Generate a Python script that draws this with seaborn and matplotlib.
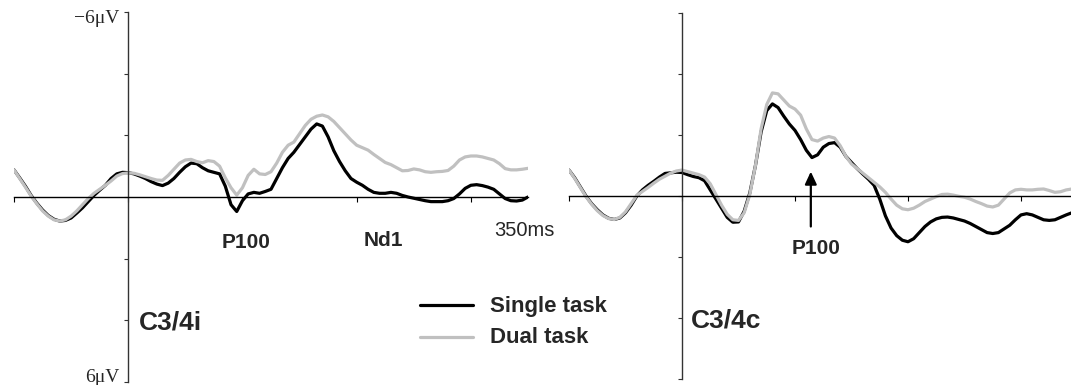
import matplotlib
matplotlib.use("Agg")
import matplotlib.pyplot as plt
from matplotlib.lines import Line2D
import seaborn as sns
import pandas as pd

# ---------------- data ----------------
conditions = ["Single task", "Dual task"]
colors = {"Single task": "#000000", "Dual task": "#c0c0c0"}

time_left = list(range(-100, 355, 5))    # ms
time_right = list(range(-100, 350, 5))   # ms

# C3/4i (ipsilateral), microvolts (negative plotted upward)
left_single = [
    -0.88, -0.62, -0.35, -0.05, 0.2, 0.42, 0.6, 0.72, 0.78, 0.76,
    0.68, 0.52, 0.35, 0.15, -0.05, -0.22, -0.38, -0.6, -0.75, -0.8,
    -0.79, -0.75, -0.68, -0.6, -0.5, -0.42, -0.37, -0.45, -0.6, -0.8,
    -0.98, -1.1, -1.08, -0.95, -0.85, -0.8, -0.75, -0.35, 0.25, 0.47,
    0.12, -0.1, -0.15, -0.12, -0.18, -0.25, -0.6, -0.95, -1.25, -1.45,
    -1.7, -1.95, -2.2, -2.37, -2.3, -1.95, -1.5, -1.15, -0.85, -0.6,
    -0.48, -0.38, -0.25, -0.15, -0.12, -0.12, -0.15, -0.12, -0.05, 0.0,
    0.04, 0.08, 0.12, 0.15, 0.15, 0.15, 0.12, 0.05, -0.1, -0.28,
    -0.38, -0.4, -0.37, -0.32, -0.25, -0.1, 0.05, 0.12, 0.13, 0.1,
    0.0,
]
left_dual = [
    -0.88, -0.6, -0.32, -0.03, 0.22, 0.45, 0.62, 0.74, 0.78, 0.74,
    0.62, 0.45, 0.25, 0.05, -0.12, -0.25, -0.38, -0.52, -0.68, -0.76,
    -0.78, -0.77, -0.72, -0.66, -0.6, -0.55, -0.54, -0.7, -0.9, -1.1,
    -1.2, -1.22, -1.15, -1.11, -1.18, -1.15, -1.0, -0.62, -0.3, -0.06,
    -0.3, -0.7, -0.9, -0.75, -0.73, -0.82, -1.1, -1.45, -1.68, -1.78,
    -2.05, -2.32, -2.52, -2.62, -2.66, -2.6, -2.45, -2.25, -2.05, -1.85,
    -1.68, -1.6, -1.52, -1.38, -1.25, -1.12, -1.05, -0.95, -0.85, -0.86,
    -0.91, -0.88, -0.82, -0.8, -0.82, -0.83, -0.86, -1.0, -1.2, -1.3,
    -1.33, -1.33, -1.3, -1.25, -1.2, -1.08, -0.92, -0.88, -0.88, -0.9,
    -0.93,
]

# C3/4c (contralateral)
right_single = [
    -0.85, -0.6, -0.3, 0.0, 0.25, 0.45, 0.62, 0.73, 0.77, 0.72,
    0.55, 0.3, 0.0, -0.2, -0.35, -0.48, -0.62, -0.74, -0.76, -0.78,
    -0.77, -0.7, -0.64, -0.6, -0.5, -0.2, 0.1, 0.4, 0.7, 0.86,
    0.85, 0.5, -0.1, -1.0, -2.1, -2.8, -3.02, -2.9, -2.62, -2.36,
    -2.15, -1.85, -1.5, -1.26, -1.35, -1.6, -1.72, -1.75, -1.6, -1.3,
    -1.1, -0.9, -0.72, -0.55, -0.35, 0.1, 0.65, 1.05, 1.3, 1.45,
    1.5, 1.4, 1.2, 1.0, 0.85, 0.75, 0.7, 0.69, 0.72, 0.77,
    0.82, 0.9, 1.0, 1.1, 1.2, 1.23, 1.2, 1.08, 0.96, 0.78,
    0.62, 0.58, 0.62, 0.7, 0.78, 0.8, 0.78, 0.7, 0.62, 0.55,
]
right_dual = [
    -0.85, -0.58, -0.28, 0.02, 0.27, 0.48, 0.64, 0.74, 0.77, 0.7,
    0.52, 0.25, -0.02, -0.15, -0.28, -0.42, -0.55, -0.65, -0.75, -0.82,
    -0.85, -0.8, -0.75, -0.7, -0.62, -0.4, -0.05, 0.3, 0.6, 0.78,
    0.8, 0.55, -0.05, -1.0, -2.2, -3.0, -3.38, -3.35, -3.15, -2.95,
    -2.85, -2.65, -2.2, -1.85, -1.8, -1.9, -1.95, -1.9, -1.65, -1.3,
    -1.05, -0.9, -0.75, -0.6, -0.45, -0.3, -0.12, 0.1, 0.3, 0.42,
    0.45, 0.4, 0.3, 0.18, 0.1, 0.02, -0.05, -0.06, -0.03, 0.01,
    0.04, 0.1, 0.18, 0.25, 0.33, 0.36, 0.3, 0.1, -0.1, -0.2,
    -0.22, -0.2, -0.2, -0.22, -0.23, -0.18, -0.12, -0.14, -0.2, -0.23,
]

y_ticks = [-6, -4, -2, 0, 2, 4, 6]
x_ticks = [-100, 0, 100, 200, 300]

# ---------------- figure ----------------
sns.set_style("white")
plt.rcParams["font.family"] = ["Liberation Sans", "DejaVu Sans"]

W, H = 1071, 385
fig = plt.figure(figsize=(W / 100, H / 100), dpi=100)


def fx(x):
    return x / W


def fy(y):
    return 1 - y / H


def make_df(t, single, dual):
    return pd.DataFrame({
        "t": list(t) * 2,
        "v": list(single) + list(dual),
        "cond": ["Single task"] * len(single) + ["Dual task"] * len(dual),
    })


def style_axes(ax, xmax):
    ax.set_xlim(-100, xmax)
    ax.set_ylim(6, -6)
    ax.spines["left"].set_position(("data", 0))
    ax.spines["bottom"].set_position(("data", 0))
    ax.spines["top"].set_visible(False)
    ax.spines["right"].set_visible(False)
    ax.spines["left"].set_color("#333333")
    ax.spines["left"].set_linewidth(1.0)
    ax.spines["bottom"].set_color("#000000")
    ax.spines["bottom"].set_linewidth(1.0)
    ax.set_yticks(y_ticks)
    ax.set_xticks(x_ticks)
    ax.set_xticklabels([])
    ax.set_yticklabels([])
    ax.tick_params(axis="y", direction="out", length=3.2, width=0.8,
                   color="#333333", left=True)
    ax.tick_params(axis="x", direction="out", length=3.5, width=0.8,
                   color="#000000", bottom=True)
    ax.set_xlabel("")
    ax.set_ylabel("")
    ax.patch.set_alpha(0)


# Left panel: -100 ms at x=14px, 350 ms at x=528px; -6uV at y=12, 6uV at y=382
ax1 = fig.add_axes([fx(14), fy(382), fx(528) - fx(14), fy(12) - fy(382)])
sns.lineplot(data=make_df(time_left, left_single, left_dual), x="t", y="v",
             hue="cond", hue_order=conditions, palette=colors, ax=ax1,
             legend=False, linewidth=2.3, estimator=None, sort=False)
style_axes(ax1, 350)

# Right panel: -100 ms at x=569px, 350 ms at x=1077.5px (cut by edge)
ax2 = fig.add_axes([fx(569), fy(379), fx(1077.5) - fx(569), fy(13) - fy(379)])
sns.lineplot(data=make_df(time_right, right_single, right_dual), x="t", y="v",
             hue="cond", hue_order=conditions, palette=colors, ax=ax2,
             legend=False, linewidth=2.3, estimator=None, sort=False)
style_axes(ax2, 350)

for ax in (ax1, ax2):
    for ln in ax.get_lines():
        ln.set_solid_capstyle("round")
        ln.set_solid_joinstyle("round")

# ---------------- text ----------------
serif = ["Liberation Serif", "DejaVu Serif"]
fig.text(fx(119), fy(23), "\u22126\u03bcV", ha="right", va="baseline",
         fontsize=14, family=serif)
fig.text(fx(120), fy(382), "6\u03bcV", ha="right", va="baseline",
         fontsize=14, family=serif)

fig.text(fx(494), fy(236), "350ms", ha="left", va="baseline", fontsize=14.5)
fig.text(fx(222), fy(248), "P100", ha="left", va="baseline", fontsize=15,
         fontweight="bold")
fig.text(fx(364), fy(246), "Nd1", ha="left", va="baseline", fontsize=15,
         fontweight="bold")
fig.text(fx(139), fy(329), "C3/4i", ha="left", va="baseline", fontsize=19,
         fontweight="bold")
fig.text(fx(691), fy(327), "C3/4c", ha="left", va="baseline", fontsize=19,
         fontweight="bold")
fig.text(fx(792), fy(254), "P100", ha="left", va="baseline", fontsize=15,
         fontweight="bold")

# arrow pointing to P100 in right panel
ax2.annotate("", xy=(114, -0.8), xytext=(114, 1.0),
             arrowprops=dict(arrowstyle="-|>,head_length=0.75,head_width=0.35",
                             mutation_scale=10, lw=1.6, color="black",
                             shrinkA=0, shrinkB=0))

# legend
fig.add_artist(Line2D([fx(420), fx(473)], [fy(305), fy(305)], color="#000000",
                      lw=2.3))
fig.add_artist(Line2D([fx(420), fx(473)], [fy(337), fy(337)], color="#c0c0c0",
                      lw=2.3))
fig.text(fx(490), fy(312), "Single task", ha="left", va="baseline",
         fontsize=16, fontweight="bold")
fig.text(fx(490), fy(343), "Dual task", ha="left", va="baseline",
         fontsize=16, fontweight="bold")

fig.savefig("out.png", dpi=100)
